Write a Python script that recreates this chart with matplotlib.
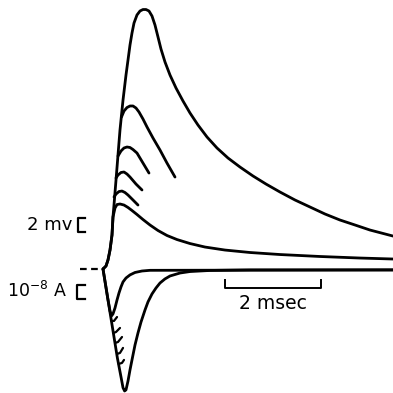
import matplotlib
matplotlib.use("Agg")
import matplotlib.pyplot as plt

# Potencial (t en ms, v en mV)
t_grande = [0, 0.0625, 0.104, 0.146, 0.1875, 0.208, 0.229, 0.271, 0.3125, 0.354,
            0.417, 0.479, 0.521, 0.5625, 0.604, 0.646, 0.708, 0.771, 0.833, 0.896,
            0.958, 1.021, 1.083, 1.146, 1.208, 1.292, 1.396, 1.521, 1.667, 1.8125,
            1.979, 2.167, 2.375, 2.604, 2.854, 3.125, 3.396, 3.6875, 4.0, 4.3125,
            4.625, 4.9375, 5.25, 5.5625, 6.042]
v_grande = [0, 0.43, 1.29, 2.71, 4.86, 7.43, 9.14, 12.71, 16.29, 19.86,
            24.14, 27.71, 29.86, 32.0, 33.71, 35.14, 36.29, 36.86, 37.07, 37.07,
            36.86, 36.14, 34.86, 33.14, 31.43, 29.57, 27.71, 25.86, 24.0, 22.29,
            20.57, 18.86, 17.29, 15.86, 14.57, 13.29, 12.14, 11.0, 9.86, 8.86,
            7.86, 7.0, 6.29, 5.57, 4.71]

t_medio = [0, 0.0625, 0.104, 0.146, 0.1875, 0.208, 0.25, 0.292, 0.354, 0.4375,
           0.521, 0.604, 0.708, 0.833, 0.979, 1.146, 1.333, 1.542, 1.8125, 2.125,
           2.542, 3.0625, 3.6875, 4.521, 5.354, 6.042]
v_medio = [0, 0.43, 1.29, 2.71, 4.86, 7.43, 8.71, 9.21, 9.29, 9.14,
           8.79, 8.36, 7.79, 7.07, 6.29, 5.5, 4.79, 4.21, 3.64, 3.14,
           2.71, 2.36, 2.07, 1.79, 1.57, 1.43]

# Respuestas truncadas
picos_t = [
    [0.385, 0.4375, 0.5, 0.5625, 0.625, 0.6875, 0.75, 0.833, 0.917, 1.042, 1.1875, 1.333, 1.5],
    [0.3125, 0.375, 0.4375, 0.5, 0.5625, 0.625, 0.708, 0.833, 0.958],
    [0.271, 0.3125, 0.375, 0.4375, 0.5, 0.5625, 0.6875, 0.8125],
    [0.229, 0.271, 0.333, 0.396, 0.458, 0.521, 0.625, 0.729],
]
picos_v = [
    [21.71, 22.57, 23.07, 23.29, 23.29, 23.0, 22.43, 21.43, 20.29, 18.71, 17.0, 15.14, 13.14],
    [16.14, 16.86, 17.29, 17.43, 17.36, 17.07, 16.57, 15.14, 13.71],
    [13.0, 13.43, 13.79, 13.86, 13.57, 13.14, 12.14, 11.29],
    [10.29, 10.71, 11.07, 11.14, 10.93, 10.57, 9.86, 9.14],
]

# Corriente (unidades de 1e-8 A)
t_corr = [0, 0.1, 0.2, 0.3, 0.375, 0.417, 0.45, 0.479, 0.521, 0.5625,
          0.604, 0.667, 0.729, 0.792, 0.875, 0.9375, 1.021, 1.104, 1.1875, 1.29,
          1.396, 1.604, 1.8125, 2.229, 3.06, 6.042]
i_corr = [0, -2.2, -4.4, -6.6, -8.0, -8.8, -9.04, -8.96, -8.30, -7.48,
          -6.74, -5.63, -4.74, -3.93, -3.04, -2.44, -1.85, -1.41, -1.04, -0.74,
          -0.52, -0.30, -0.19, -0.11, -0.07, -0.07]

t_corr2 = [0, 0.1, 0.146, 0.177, 0.208, 0.25, 0.292, 0.333, 0.375, 0.417,
           0.479, 0.5625, 0.667, 0.8125, 0.979, 6.042]
i_corr2 = [0, -2.2, -3.11, -3.48, -3.33, -2.89, -2.30, -1.78, -1.33, -0.96,
           -0.67, -0.44, -0.26, -0.15, -0.1, -0.07]

marcas_t = [[0.179, 0.229, 0.292], [0.221, 0.271, 0.354], [0.254, 0.3125, 0.396],
            [0.292, 0.354, 0.417], [0.327, 0.396, 0.4375]]
marcas_i = [[-3.85, -3.85, -3.56], [-4.74, -4.67, -4.37], [-5.48, -5.41, -5.04],
            [-6.30, -6.22, -5.85], [-7.04, -6.96, -6.74]]

lw = 2.0
estilo = dict(color='k', lw=lw, solid_joinstyle='round', solid_capstyle='round')

fig = plt.figure(figsize=(3.93, 3.93), dpi=100)
ax = fig.add_axes([0, 0, 1, 1])
ax2 = ax.twinx()

ax.plot(t_grande, v_grande, **estilo)
ax.plot(t_medio, v_medio, **estilo)
for tt, vv in zip(picos_t, picos_v):
    ax.plot(tt, vv, **estilo)

ax2.plot(t_corr, i_corr, **estilo)
ax2.plot(t_corr2, i_corr2, **estilo)
for tt, ii in zip(marcas_t, marcas_i):
    ax2.plot(tt, ii, color='k', lw=1.6, solid_joinstyle='round', solid_capstyle='round')

# linea base punteada
ax2.plot([-0.48, 0], [0, 0], 'k', lw=1.6, dashes=(3, 2))

# escala de voltaje
ax.plot([-0.375, -0.521, -0.521, -0.375], [5.29, 5.29, 7.29, 7.29], 'k', lw=1.6)
ax.text(-0.64, 6.29, "2 mv", ha='right', va='center', fontsize=13)

# escala de corriente
ax2.plot([-0.375, -0.54, -0.54, -0.375], [-2.2, -2.2, -1.2, -1.2], 'k', lw=1.6)
ax2.text(-0.75, -1.65, "10$^{-8}$ A", ha='right', va='center', fontsize=12.5)

# escala de tiempo
ax2.plot([2.54, 2.54, 4.54, 4.54], [-0.8, -1.4, -1.4, -0.8], 'k', lw=1.4)
ax2.text(3.54, -1.85, "2 msec", ha='center', va='top', fontsize=13.5)

ax.set_xlim(-2.146, 6.042)
ax.set_ylim(-17.71, 38.43)
ax2.set_ylim(-9.19, 19.93)
ax.axis('off')
ax2.axis('off')

plt.savefig("out.png", dpi=100)
